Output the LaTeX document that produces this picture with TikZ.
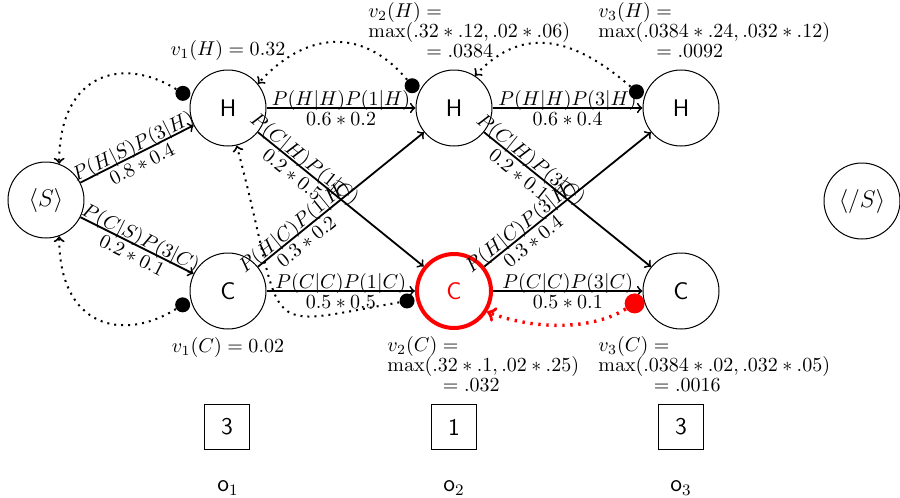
\documentclass[tikz,border=0pt]{standalone}
\usetikzlibrary{calc}
\begin{document}
\begin{tikzpicture}[x=0.5pt,y=0.5pt,
  hmmstate/.style={circle,draw,line width=0.5pt,minimum size=38pt,inner sep=0pt,font=\large\sffamily},
  beststate/.style={hmmstate,draw=red,text=red,line width=2pt,minimum size=37pt},
  obsbox/.style={rectangle,draw,line width=0.5pt,minimum size=22.5pt,inner sep=0pt,font=\large\sffamily},
  transarrow/.style={->,line width=0.9pt},
  lab/.style={align=center,inner sep=0pt,sloped},
  vlab/.style={align=left,inner sep=0pt,anchor=north west},
  bp/.style={->,line width=1pt,dash pattern=on 1pt off 2.5pt},
  bpbest/.style={->,red,line width=1.7pt,dash pattern=on 1.2pt off 2.8pt},
  bpdot/.style={circle,fill,inner sep=0pt,minimum size=7.5pt},
  bpbestdot/.style={circle,fill=red,inner sep=0pt,minimum size=10pt},
]
\useasboundingbox (0,0) rectangle (900,-498);

% states
\node[hmmstate] (S)  at (46,-200)  {$\langle S\rangle$};
\node[hmmstate] (H1) at (228,-108) {H};
\node[hmmstate] (C1) at (228,-291) {C};
\node[hmmstate] (H2) at (454,-108) {H};
\node[beststate] (C2) at (454,-291) {C};
\node[hmmstate] (H3) at (681,-108) {H};
\node[hmmstate] (C3) at (681,-291) {C};
\node[hmmstate] (E)  at (862,-201) {$\langle /S\rangle$};

% transitions
\draw[transarrow] (S) -- node[lab]{$P(H|S)P(3|H)$\\[-2pt]$0.8 * 0.4$} (H1);
\draw[transarrow] (S) -- node[lab]{$P(C|S)P(3|C)$\\[-2pt]$0.2 * 0.1$} (C1);
\draw[transarrow] (H1) -- node[lab]{$P(H|H)P(1|H)$\\[-2pt]$0.6 * 0.2$} (H2);
\draw[transarrow] (H1) -- node[lab,pos=0.25]{$P(C|H)P(1|C)$\\[-2pt]$0.2 * 0.5$} (C2);
\draw[transarrow] (C1) -- node[lab,pos=0.25]{$P(H|C)P(1|H)$\\[-2pt]$0.3 * 0.2$} (H2);
\draw[transarrow] (C1) -- node[lab]{$P(C|C)P(1|C)$\\[-2pt]$0.5 * 0.5$} (C2);
\draw[transarrow] (H2) -- node[lab]{$P(H|H)P(3|H)$\\[-2pt]$0.6 * 0.4$} (H3);
\draw[transarrow] (H2) -- node[lab,pos=0.25]{$P(C|H)P(3|C)$\\[-2pt]$0.2 * 0.1$} (C3);
\draw[transarrow] (C2) -- node[lab,pos=0.25]{$P(H|C)P(3|H)$\\[-2pt]$0.3 * 0.4$} (H3);
\draw[transarrow] (C2) -- node[lab]{$P(C|C)P(3|C)$\\[-2pt]$0.5 * 0.1$} (C3);

% viterbi values
\node (v1H) at (228,-50) {$v_1(H) = 0.32$};
\node (v1C) at (228,-347) {$v_1(C) = 0.02$};
\node[vlab] (v2H) at (368,-2) {$v_2(H) =$\\[-2pt]$\max(.32 * .12, .02 * .06)$\\[-2pt]$\phantom{v_2(H)} = .0384$};
\node[vlab] (v3H) at (598,-2) {$v_3(H) =$\\[-2pt]$\max(.0384 * .24, .032 * .12)$\\[-2pt]$\phantom{v_3(H)} = .0092$};
\node[vlab] (v2C) at (387,-336) {$v_2(C) =$\\[-2pt]$\max(.32 * .1, .02 * .25)$\\[-2pt]$\phantom{v_2(C)} = .032$};
\node[vlab] (v3C) at (598,-336) {$v_3(C) =$\\[-2pt]$\max(.0384 * .02, .032 * .05)$\\[-2pt]$\phantom{v_3(C)} = .0016$};

% observations
\node[obsbox] (ob1) at (227,-427) {3};
\node[obsbox] (ob2) at (454,-427) {1};
\node[obsbox] (ob3) at (681,-427) {3};
\node[font=\large] (o1) at (228,-488) {$\mathsf{o}_1$};
\node[font=\large] (o2) at (454,-488) {$\mathsf{o}_2$};
\node[font=\large] (o3) at (681,-488) {$\mathsf{o}_3$};

% backpointers
\node[bpdot] (b1) at ($(H1)+(162:23.7pt)$) {};
\node[bpdot] (b2) at ($(C1)+(197:23.7pt)$) {};
\node[bpdot] (b3) at ($(H2)+(152:23.7pt)$) {};
\node[bpdot] (b4) at ($(H3)+(160:23.7pt)$) {};
\node[bpdot] (b5) at ($(C2)+(192:24pt)$) {};
\node[bpbestdot] (b6) at ($(C3)+(195:24pt)$) {};

\draw[bp] (b1) to[out=148,in=90,out distance=31pt,in distance=46pt] (S.70);
\draw[bp] (b2) to[out=212,in=270,out distance=31pt,in distance=46pt] (S.290);
\draw[bp] (b3) to[out=130,in=48,out distance=35pt,in distance=35pt] (H1.39);
\draw[bp] (b4) to[out=139,in=47,out distance=36pt,in distance=36pt] (H2.57);
\draw[bp] (b5) to[out=190,in=285,out distance=75pt,in distance=100pt] (H1.283);
\draw[bpbest] (b6) to[out=212,in=338,out distance=22pt,in distance=22pt] (C2.328);
\end{tikzpicture}
\end{document}
